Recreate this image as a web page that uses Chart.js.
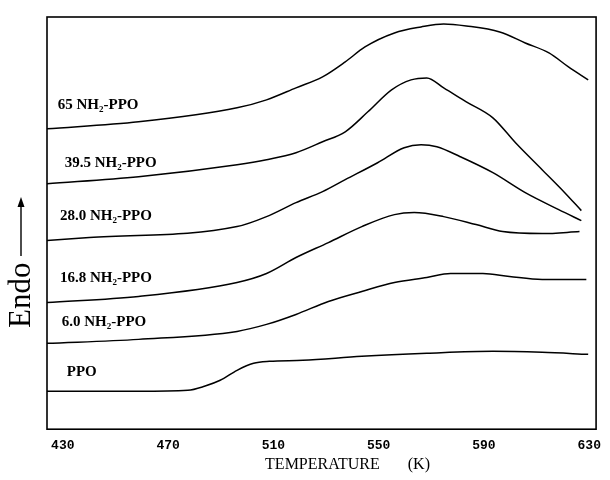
<!DOCTYPE html>
<html>
<head>
<meta charset="utf-8" />
<title>DSC curves NH2-PPO</title>
<style>
  html, body { margin: 0; padding: 0; background: #fff; }
  #wrap { width: 610px; height: 480px; }
</style>
<script src="https://cdn.jsdelivr.net/npm/chart.js"></script>
</head>
<body>
<div id="wrap"><canvas id="chart" width="610" height="480"></canvas></div>
<script>
// temperature (K) of each traced point, and heat flow (arbitrary, Endo up)
const t65  = [424, 458.8, 496.2, 507.4, 518.6, 528.7, 537.3, 544.8, 556, 566.1, 574.7, 583.3, 596, 605.7, 614.7, 622.1, 629.6];
const v65  = [301, 308, 322, 330, 342, 353, 368, 383, 397, 403, 406, 404, 398, 387, 377, 363, 350];

const t395 = [424, 458.8, 496.2, 507.4, 518.6, 528.7, 537.3, 545.9, 554.9, 562.3, 568.3, 574.7, 583.3, 593.4, 602, 612.1, 620.7, 627];
const v395 = [246, 253, 265, 270, 277, 288, 298, 318, 340, 350, 352, 342, 328, 312, 287, 260, 237, 219];

const t280 = [424, 440.1, 496.2, 507.4, 518.6, 528.7, 537.3, 549.6, 559.7, 566.1, 572.1, 581, 593.4, 605.7, 618.4, 627];
const v280 = [189, 192, 203, 213, 227, 238, 250, 267, 282, 285, 283, 273, 257, 237, 220, 209];

const t168 = [424, 458.8, 496.2, 507.4, 518.6, 530.9, 543.6, 556, 563.5, 574.7, 587, 597.1, 612.1, 626.3];
const v168 = [127, 133, 147, 156, 172, 187, 203, 215, 217, 213, 205, 198, 196, 198];

const t60  = [424, 458.8, 496.2, 507.4, 518.6, 530.9, 543.6, 556, 568.3, 577.3, 589.6, 599.7, 612.1, 628.9];
const v60  = [86, 90, 98, 105, 115, 128, 138, 147, 152, 156, 156, 153, 150, 150];

const tPPO = [424, 458.8, 477.5, 483.8, 489.8, 496.2, 502.5, 508.5, 521.2, 543.6, 568.3, 593.4, 612.1, 629.6];
const vPPO = [38, 38, 39, 43, 49, 59, 66, 68, 69, 73, 76, 78, 77, 75];

const seriesNames = ['65 NH₂-PPO', '39.5 NH₂-PPO', '28.0 NH₂-PPO', '16.8 NH₂-PPO', '6.0 NH₂-PPO', 'PPO'];
const xTicks = [430, 470, 510, 550, 590, 630];

// where each curve name sits (data units: K, signal)
const nameSpots = [[428.1, 325], [430.7, 267], [428.9, 213], [428.9, 151], [429.6, 107], [431.5, 57]];

const pairs = (xs, ys) => xs.map((x, i) => ({ x, y: ys[i] }));
const curves = [[t65, v65], [t395, v395], [t280, v280], [t168, v168], [t60, v60], [tPPO, vPPO]];

const frameAndNames = {
    id: 'frameAndNames',
    afterDraw(chart) {
        const { ctx, chartArea: a, scales } = chart;
        ctx.save();
        ctx.strokeStyle = '#000';
        ctx.fillStyle = '#000';
        ctx.lineWidth = 1.6;
        ctx.strokeRect(a.left, a.top, a.right - a.left, a.bottom - a.top);

        ctx.font = 'bold 15px "Liberation Serif", "Times New Roman", serif';
        ctx.textBaseline = 'middle';
        seriesNames.forEach((name, i) => {
            const [x, y] = nameSpots[i];
            ctx.fillText(name, scales.x.getPixelForValue(x), scales.y.getPixelForValue(y));
        });

        // y axis label "Endo" with the upward arrow
        ctx.translate(22, 328);
        ctx.rotate(-Math.PI / 2);
        ctx.font = '31px "Liberation Serif", serif';
        ctx.textAlign = 'left';
        ctx.fillText('Endo', 0, 0);
        ctx.lineWidth = 1.4;
        ctx.beginPath();
        ctx.moveTo(72, -1);
        ctx.lineTo(126, -1);
        ctx.stroke();
        ctx.beginPath();
        ctx.moveTo(131, -1);
        ctx.lineTo(121, -4.5);
        ctx.lineTo(121, 2.5);
        ctx.closePath();
        ctx.fill();
        ctx.restore();
    }
};

new Chart(document.getElementById('chart'), {
    type: 'line',
    data: {
        datasets: curves.map(([xs, ys], i) => ({
            label: seriesNames[i],
            data: pairs(xs, ys),
            borderColor: '#000',
            borderWidth: 1.5,
            pointRadius: 0,
            cubicInterpolationMode: 'monotone',
            fill: false
        }))
    },
    options: {
        responsive: false,
        animation: false,
        layout: { padding: { left: 47, top: 17, right: 5, bottom: 6 } },
        scales: {
            x: {
                type: 'linear',
                min: 424,
                max: 632.6,
                afterBuildTicks: s => { s.ticks = xTicks.map(v => ({ value: v })); },
                grid: { display: false, drawTicks: false },
                border: { display: false },
                ticks: {
                    color: '#000',
                    padding: 9,
                    font: { family: '"Liberation Mono", monospace', size: 13, weight: 'bold' },
                    callback: v => String(v)
                },
                title: {
                    display: true,
                    text: '\u00a0'.repeat(13) + 'TEMPERATURE' + '\u00a0'.repeat(7) + '(K)',
                    color: '#000',
                    font: { family: '"Liberation Serif", serif', size: 16 },
                    padding: { top: -8, bottom: 0 }
                }
            },
            y: {
                display: false,
                min: 0,
                max: 413
            }
        },
        plugins: {
            legend: { display: false },
            tooltip: { enabled: false }
        }
    },
    plugins: [frameAndNames]
});
</script>
</body>
</html>
